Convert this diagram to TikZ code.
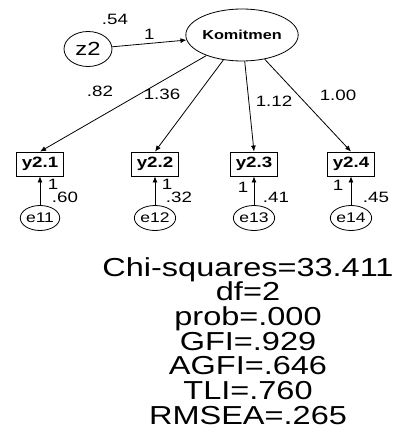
\documentclass[tikz,border=0pt]{standalone}
\usepackage{fontspec}
\setsansfont{Liberation Sans}
\newfontfamily\amosfont[FakeStretch=1.25]{Liberation Sans}
\usetikzlibrary{arrows.meta,shapes.geometric}

\begin{document}
\begin{tikzpicture}[
  x=1pt, y=-1pt, >={Latex[length=6pt,width=5pt]}, line width=0.8pt,
  latent/.style={draw, ellipse, inner sep=0pt, minimum width=90pt, minimum height=52pt,
    font=\amosfont\fontsize{13}{13}\selectfont\bfseries},
  resid/.style={draw, ellipse, inner sep=0pt, minimum width=33pt, minimum height=25pt,
    font=\amosfont\fontsize{14}{14}\selectfont},
  obs/.style={draw, rectangle, inner sep=0pt, minimum width=47pt, minimum height=24pt,
    font=\amosfont\fontsize{15}{15}\selectfont\bfseries},
  est/.style={font=\amosfont\fontsize{15}{15}\selectfont, inner sep=0pt},
  fitstats/.style={font=\amosfont\fontsize{26}{24.7}\selectfont, align=center, inner sep=0pt}]

\useasboundingbox (0,0) rectangle (405,433);

\def\yobs{164}   % row of the indicators
\def\yerr{218}   % row of their residuals

% ================================================================ latent part
\node[latent] (kom) at (242,35) {Komitmen};
\node[resid, minimum width=48pt, minimum height=35pt,
  font=\amosfont\fontsize{19}{19}\selectfont] (z2) at (88,49) {z2};
\node[est] (vz2) at (115,19) {.54};
\draw[->] (z2) -- (kom) node[est, midway, above=4pt] (wz2) {1};

% ================================================================ indicators
\foreach \i/\x in {1/40, 2/155, 3/254, 4/351}{
  \node[obs] (y\i) at (\x,\yobs) {y2.\i};
  \node[resid] (e\i) at (\x,\yerr) {e1\i};
  \draw[->] (kom) -- (y\i.north);
  \draw[->] (e\i) -- (y\i);}

% loadings
\foreach \i/\lam/\lx/\ly in {1/.82/100/91, 2/1.36/162/94, 3/1.12/274/101, 4/1.00/338/95}
  \node[est] (lam\i) at (\lx,\ly) {\lam};

% residual paths and variances
\foreach \i/\wx/\wy/\v/\vx in {1/53/184/.60/65, 2/167/184/.32/179, 3/243/187/.41/276, 4/338/185/.45/376}{
  \node[est] (w\i) at (\wx,\wy) {1};
  \node[est] (v\i) at (\vx,197) {\v};}

% ================================================================ fit
\node[fitstats] (stats) at (248,341)
  {Chi-squares=33.411\\df=2\\prob=.000\\GFI=.929\\AGFI=.646\\TLI=.760\\RMSEA=.265};

\end{tikzpicture}
\end{document}
